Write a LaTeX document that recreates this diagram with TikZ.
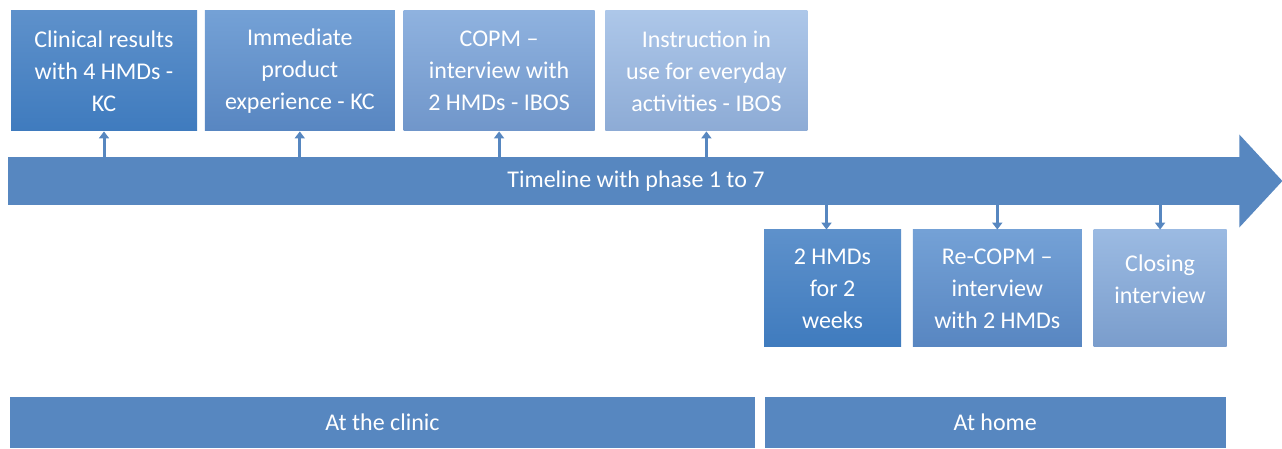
\documentclass[tikz,border=0pt]{standalone}
\usepackage{fontspec}
\setmainfont{Carlito}
\usetikzlibrary{positioning,arrows.meta}
\definecolor{tlblue}{HTML}{5787C0}
\definecolor{paT}{HTML}{5E91CB}
\definecolor{paB}{HTML}{3F7BBE}
\definecolor{pbT}{HTML}{74A1D6}
\definecolor{pbB}{HTML}{5886C1}
\definecolor{pcT}{HTML}{8FB2DF}
\definecolor{pcB}{HTML}{7096CA}
\definecolor{pdT}{HTML}{ADC7E9}
\definecolor{pdB}{HTML}{8DABD5}
\definecolor{peT}{HTML}{9BBAE2}
\definecolor{peB}{HTML}{7A9DCC}
\tikzset{
  phs/.style  ={rectangle, align=center, text=white, inner sep=2pt,
                font=\fontsize{12}{16}\selectfont, minimum height=60pt},
  phsa/.style ={phs, top color=paT, bottom color=paB},
  phsb/.style ={phs, top color=pbT, bottom color=pbB},
  phsc/.style ={phs, top color=pcT, bottom color=pcB},
  phsd/.style ={phs, top color=pdT, bottom color=pdB},
  phse/.style ={phs, top color=peT, bottom color=peB},
  bar/.style  ={rectangle, fill=tlblue, text=white, inner sep=2pt,
                font=\fontsize{12}{16}\selectfont, minimum height=25.5pt},
  tk/.style   ={-{Triangle[width=5pt,length=3.5pt]}, line width=1.5pt, draw=tlblue}
}

\begin{document}
\begin{tikzpicture}[x=0.5pt,y=-0.5pt]
  \useasboundingbox (0,0) rectangle (1282,449);
  % timeline
  \node[bar,minimum width=616pt,minimum height=24pt] (tl) at (624,181) {\hspace*{12pt}Timeline with phase 1 to 7};
  \fill[tlblue] ([xshift=-0.5pt]tl.north east) -- ++(0,11pt) -- ([xshift=21pt]tl.east)
        -- ([xshift=-0.5pt,yshift=-11pt]tl.south east) -- ([xshift=-0.5pt]tl.south east) -- cycle;
  % phases at the clinic
  \node[phsa,minimum width=93pt] (b1) at (104,71) {Clinical results\\with 4 HMDs -\\KC};
  \node[phsb,minimum width=95pt,right=3.5pt of b1] (b2) {Immediate\\product\\experience - KC};
  \node[phsc,minimum width=95.5pt,right=4pt of b2] (b3) {COPM --\\interview with\\2 HMDs - IBOS};
  \node[phsd,minimum width=101pt,right=5pt of b3] (b4) {Instruction in\\use for everyday\\activities - IBOS};
  % phases at home
  \node[phsa,minimum width=68.5pt,minimum height=58.5pt] (c1) at (832.5,288.5) {2 HMDs\\for 2\\weeks};
  \node[phsb,minimum width=84.5pt,minimum height=58.5pt,right=5.5pt of c1] (c2) {Re-COPM --\\interview\\with 2 HMDs};
  \node[phse,minimum width=66.5pt,minimum height=58.5pt,right=5.5pt of c2] (c3) {Closing\\interview\rule[-9pt]{0pt}{0pt}};
  \foreach \b in {b1,b2,b3,b4}
    \draw[tk] (\b.south |- tl.north) -- (\b.south);
  \draw[tk] ([xshift=-3pt]c1.north |- tl.south) -- ([xshift=-3pt]c1.north);
  \foreach \c in {c2,c3}
    \draw[tk] (\c.north |- tl.south) -- (\c.north);
  % places
  \node[bar,minimum width=372.5pt] (clinic) at (382.5,422.5) {At the clinic};
  \node[bar,minimum width=230.5pt,right=4.5pt of clinic] (home) {At home};
\end{tikzpicture}
\end{document}
